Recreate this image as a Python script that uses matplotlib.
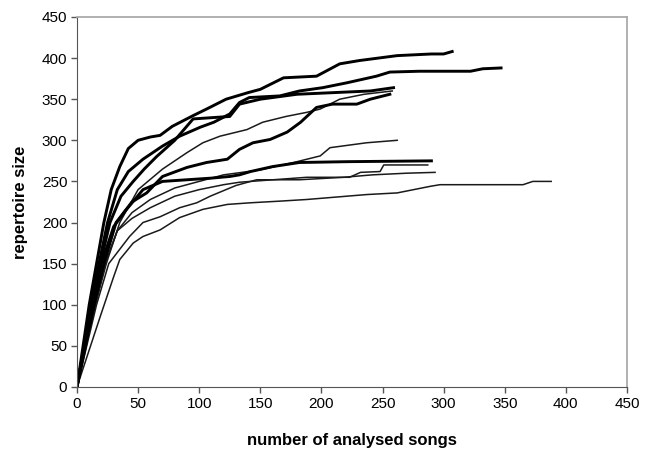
import matplotlib
matplotlib.use('Agg')
import matplotlib.pyplot as plt

plt.rcParams['font.family'] = ['Liberation Sans', 'DejaVu Sans']

# cumulative repertoire curves: (songs, repertoire)
A_x = [0, 5, 10, 16, 22, 28, 35, 42, 50, 60, 68, 78, 95, 106, 122, 140, 150, 169, 196, 215, 231, 262, 290, 300, 307]
A_y = [0, 50, 100, 150, 200, 240, 268, 290, 300, 304, 306, 317, 330, 338, 350, 358, 362, 376, 378, 393, 397, 403, 405, 405, 408]
B_x = [0, 6, 11, 18, 25, 33, 42, 54, 70, 84, 101, 112, 125, 133, 141, 166, 182, 201, 221, 245, 256, 280, 322, 332, 347]
B_y = [0, 50, 100, 150, 200, 240, 262, 277, 293, 305, 316, 322, 332, 346, 352, 354, 360, 364, 370, 378, 383, 384, 384, 387, 388]
C_x = [0, 6, 12, 19, 27, 36, 46, 55, 65, 80, 95, 125, 133, 150, 180, 210, 240, 259]
C_y = [0, 50, 100, 150, 200, 232, 250, 265, 280, 300, 326, 329, 344, 350, 356, 358, 360, 364]
D_x = [0, 7, 14, 22, 32, 45, 57, 70, 90, 106, 123, 133, 144, 158, 172, 183, 196, 209, 229, 240, 256]
D_y = [0, 50, 100, 150, 200, 225, 236, 256, 267, 273, 277, 289, 297, 301, 310, 322, 340, 344, 344, 350, 356]
T_x = [0, 7, 15, 24, 35, 50, 70, 90, 103, 117, 139, 152, 171, 188, 199, 215, 235, 258]
T_y = [0, 50, 100, 150, 200, 240, 265, 285, 297, 305, 313, 322, 329, 334, 338, 350, 356, 360]
E_x = [0, 7, 15, 23, 33, 45, 60, 80, 100, 120, 150, 180, 199, 207, 237, 262]
E_y = [0, 50, 100, 150, 190, 212, 228, 242, 250, 258, 264, 274, 281, 291, 297, 300]
F_x = [0, 6, 13, 20, 30, 40, 54, 70, 90, 110, 125, 133, 142, 160, 182, 221, 290]
F_y = [0, 50, 100, 150, 195, 215, 240, 250, 252, 254, 256, 258, 262, 268, 273, 274, 275]
G_x = [0, 7, 15, 23, 33, 45, 60, 80, 100, 120, 133, 188, 223, 232, 248, 251, 287]
G_y = [0, 50, 100, 150, 190, 205, 218, 232, 240, 246, 249, 255, 255, 261, 262, 270, 270]
H_x = [0, 8, 16, 26, 43, 54, 68, 84, 98, 109, 130, 147, 182, 218, 242, 270, 293]
H_y = [0, 50, 100, 150, 183, 200, 207, 218, 224, 232, 245, 252, 252, 255, 258, 260, 261]
I_x = [0, 10, 20, 30, 35, 46, 54, 68, 84, 103, 123, 142, 166, 188, 237, 262, 289, 297, 365, 373, 388]
I_y = [0, 45, 90, 134, 155, 175, 183, 191, 206, 216, 222, 224, 226, 228, 234, 236, 244, 246, 246, 250, 250]

thick = [(A_x, A_y), (B_x, B_y), (C_x, C_y), (D_x, D_y), (F_x, F_y)]
thin = [(T_x, T_y), (E_x, E_y), (G_x, G_y), (H_x, H_y), (I_x, I_y)]

fig = plt.figure(figsize=(6.47, 4.59), dpi=100)
ax = fig.add_axes([0.119, 0.157, 0.85, 0.806])

for xs, ys in thin:
    ax.plot(xs, ys, color='#1a1a1a', lw=1.1)
for xs, ys in thick:
    ax.plot(xs, ys, color='black', lw=2.1)

ax.set_xlim(0, 450)
ax.set_ylim(0, 450)
ax.set_xticks(range(0, 451, 50))
ax.set_yticks(range(0, 451, 50))
ax.tick_params(direction='out', length=4, width=1, color='#555555',
               labelsize=11, pad=3)
for s in ['left', 'bottom']:
    ax.spines[s].set_color('#555555')
for s in ['top', 'right']:
    ax.spines[s].set_color('#aaaaaa')
    ax.spines[s].set_linewidth(1.3)

ax.set_xlabel('number of analysed songs', fontsize=12, fontweight='bold', labelpad=16)
ax.set_ylabel('repertoire size', fontsize=12, fontweight='bold', labelpad=10)

plt.savefig('out.png', dpi=100)
